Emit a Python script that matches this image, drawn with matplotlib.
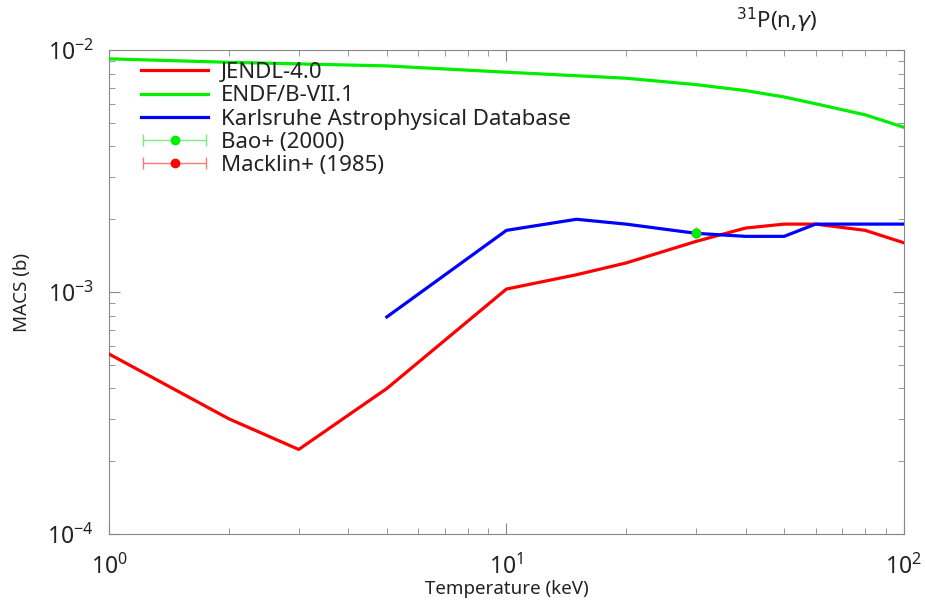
import matplotlib
matplotlib.use("Agg")
import matplotlib.pyplot as plt
from matplotlib.ticker import LogLocator, NullFormatter
from matplotlib.legend_handler import HandlerErrorbar

plt.rcParams['font.family'] = ['Noto Sans', 'DejaVu Sans']

# temperatures (keV)
t_jendl = [1, 2, 3, 5, 10, 15, 20, 30, 40, 50, 60, 80, 100]
macs_jendl = [5.55e-4, 3.0e-4, 2.24e-4, 4.0e-4, 1.03e-3, 1.18e-3, 1.32e-3,
              1.62e-3, 1.84e-3, 1.91e-3, 1.91e-3, 1.80e-3, 1.60e-3]

t_endf = [1, 2, 5, 10, 20, 30, 40, 50, 60, 80, 100]
macs_endf = [9.2e-3, 8.9e-3, 8.6e-3, 8.1e-3, 7.65e-3, 7.2e-3, 6.8e-3,
             6.4e-3, 6.0e-3, 5.4e-3, 4.8e-3]

t_kad = [5, 10, 15, 20, 30, 40, 50, 60, 80, 100]
macs_kad = [7.9e-4, 1.80e-3, 2.0e-3, 1.91e-3, 1.75e-3, 1.70e-3, 1.70e-3,
            1.91e-3, 1.91e-3, 1.91e-3]

t_bao = [30]
macs_bao = [1.75e-3]

t_macklin = [30]
macs_macklin = [1.75e-3]

fig = plt.figure(figsize=(9.25, 6.03), dpi=100)
ax = fig.add_axes([0.118, 0.114, 0.859, 0.803])

ax.plot(t_jendl, macs_jendl, color='#ff0000', lw=2.3, label='JENDL-4.0', zorder=3)
ax.plot(t_endf, macs_endf, color='#00ee00', lw=2.3, label='ENDF/B-VII.1', zorder=3)
ax.plot(t_kad, macs_kad, color='#0000ff', lw=2.3,
        label='Karlsruhe Astrophysical Database', zorder=3)
ax.errorbar(t_bao, macs_bao, xerr=[0], fmt='o', color='#00ee00',
            ecolor='#77ee77', elinewidth=1, capsize=4, ms=6,
            label='Bao+ (2000)', zorder=5)
ax.errorbar(t_macklin, macs_macklin, xerr=[0], fmt='o', color='#ff0000',
            ecolor='#ff7777', elinewidth=1, capsize=4, ms=6,
            label='Macklin+ (1985)', zorder=1)

ax.set_xscale('log')
ax.set_yscale('log')
ax.set_xlim(1, 100)
ax.set_ylim(1e-4, 1e-2)

for sp in ax.spines.values():
    sp.set_color('#888888')
ax.tick_params(which='both', direction='in', top=True, right=True,
               colors='#888888', labelcolor='#222222', labelsize=16.5)
ax.tick_params(which='major', length=8)
ax.tick_params(which='minor', length=4)
ax.tick_params(axis='x', which='major', pad=15)
ax.tick_params(axis='y', which='major', pad=11)
ax.xaxis.set_minor_locator(LogLocator(base=10, subs=range(2, 10)))
ax.yaxis.set_minor_locator(LogLocator(base=10, subs=range(2, 10)))
ax.xaxis.set_minor_formatter(NullFormatter())
ax.yaxis.set_minor_formatter(NullFormatter())

ax.set_xlabel('Temperature (keV)', fontsize=13.5, color='#222222', labelpad=0)
ax.set_ylabel('MACS (b)', fontsize=13.5, color='#222222', labelpad=12)

leg = ax.legend(loc='upper left', frameon=False, fontsize=16,
                handlelength=3.0, handletextpad=0.6, labelspacing=0.1,
                borderaxespad=0.15, bbox_to_anchor=(0.025, 1.0),
                handler_map={type(ax.containers[0]): HandlerErrorbar(xerr_size=1.4)})
for txt in leg.get_texts():
    txt.set_color('#222222')

fig.text(0.84, 0.966, r'$^{31}$P(n,$\gamma$)', fontsize=16, ha='center',
         va='center', color='#222222')

fig.savefig('out.png', dpi=100)
